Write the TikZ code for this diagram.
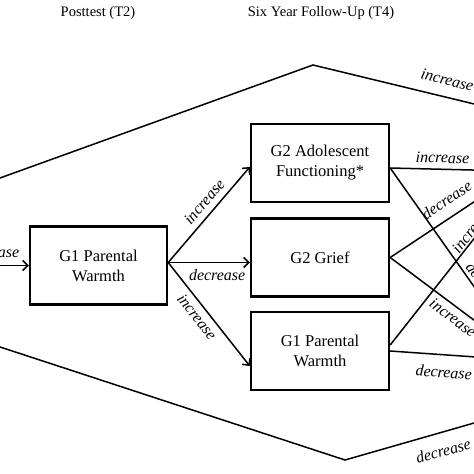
\documentclass[tikz,border=0pt]{standalone}
\usepackage{fontspec}
\setmainfont{Liberation Serif}
\usetikzlibrary{calc}
\usetikzlibrary{arrows.meta}

\begin{document}
\begin{tikzpicture}[x=1pt, y=-1pt,
		box/.style={draw, line width=2.4pt, minimum width=138pt, minimum height=78pt, align=center, font=\fontsize{16.5}{20}\selectfont},
		lbl/.style={font=\fontsize{16}{18}\selectfont\itshape, inner sep=1pt, sloped},
		link/.style={line width=1.5pt},
		arr/.style={link, -{Straight Barb[length=5pt,width=10pt]}}]
		\useasboundingbox (0,0) rectangle (474,474);
		\clip (0,0) rectangle (474,474);
		% time points
		\node[font=\fontsize{14.5}{17}\selectfont] (t2) at (98,13) {Posttest (T2)};
		\node[font=\fontsize{14.5}{17}\selectfont] (t4) at (321,13) {Six Year Follow-Up (T4)};
		% boxes
		\node[box, minimum width=137pt] (pw2) at (98.5,265.5) {G1 Parental\\Warmth};
		\node[box] (adol) at (320,163) {G2 Adolescent\\Functioning*};
		\node[box] (grief) at (320,257.5) {G2 Grief};
		\node[box] (pw4) at (320,351) {G1 Parental\\Warmth};
		% ends off the right edge
		\coordinate (src) at (-60,265.5);
		\coordinate (fork) at ($(pw2.east)+(0,-3)$);
		\coordinate (tl) at (-10,181.6);
		\coordinate (tpeak) at (313,65);
		\coordinate (tr) at (480,105.4);
		\coordinate (bl) at (-10,343.7);
		\coordinate (bvalley) at (345,460);
		\coordinate (br) at (480,421.3);
		\coordinate (r1) at (480,170.2);
		\coordinate (r2) at (480,295);
		\coordinate (r3) at (480,197.9);
		\coordinate (r4) at (480,324.6);
		\coordinate (r5) at (480,231);
		\coordinate (r6) at (480,357.3);
		% into T2
		\draw[arr] (src) -- node[lbl, above=6.5pt, pos=0.59] {increase} (pw2.west);
		% T2 to T4
		\draw[arr] (fork) -- node[lbl, above=5pt, pos=0.555] {increase} ($(adol.west)+(0,4)$);
		\draw[arr] (fork) -- node[lbl, below=5pt, pos=0.6] {decrease} (grief.west |- fork);
		\draw[arr] (fork) -- node[lbl, below=4pt, pos=0.46] {increase} ($(pw4.west)+(0,15)$);
		% long paths
		\draw[link] (tl) -- (tpeak) -- node[lbl, above=10pt, pos=0.78] {increase} (tr);
		\draw[link] (bl) -- (bvalley) -- node[lbl, below=11pt, pos=0.69] {decrease} (br);
		% T4 onwards
		\draw[link] ($(adol.east)+(0,5)$) -- node[lbl, above=4.4pt, pos=0.58] {increase} (r1);
		\draw[link] ($(adol.east)+(0,5)$) -- node[lbl, above=2pt, pos=0.98] {decrease} (r2);
		\draw[link] (grief.east) -- node[lbl, above=9.4pt, pos=0.73] {decrease} (r3);
		\draw[link] (grief.east) -- node[lbl, below=3.6pt, pos=0.77] {increase} (r4);
		\draw[link] ($(pw4.east)+(0,-6)$) -- node[lbl, above=0pt, pos=0.97] {increase} (r5);
		\draw[link] (pw4.east) -- node[lbl, below=10pt, pos=0.61] {decrease} (r6);
\end{tikzpicture}
\end{document}
